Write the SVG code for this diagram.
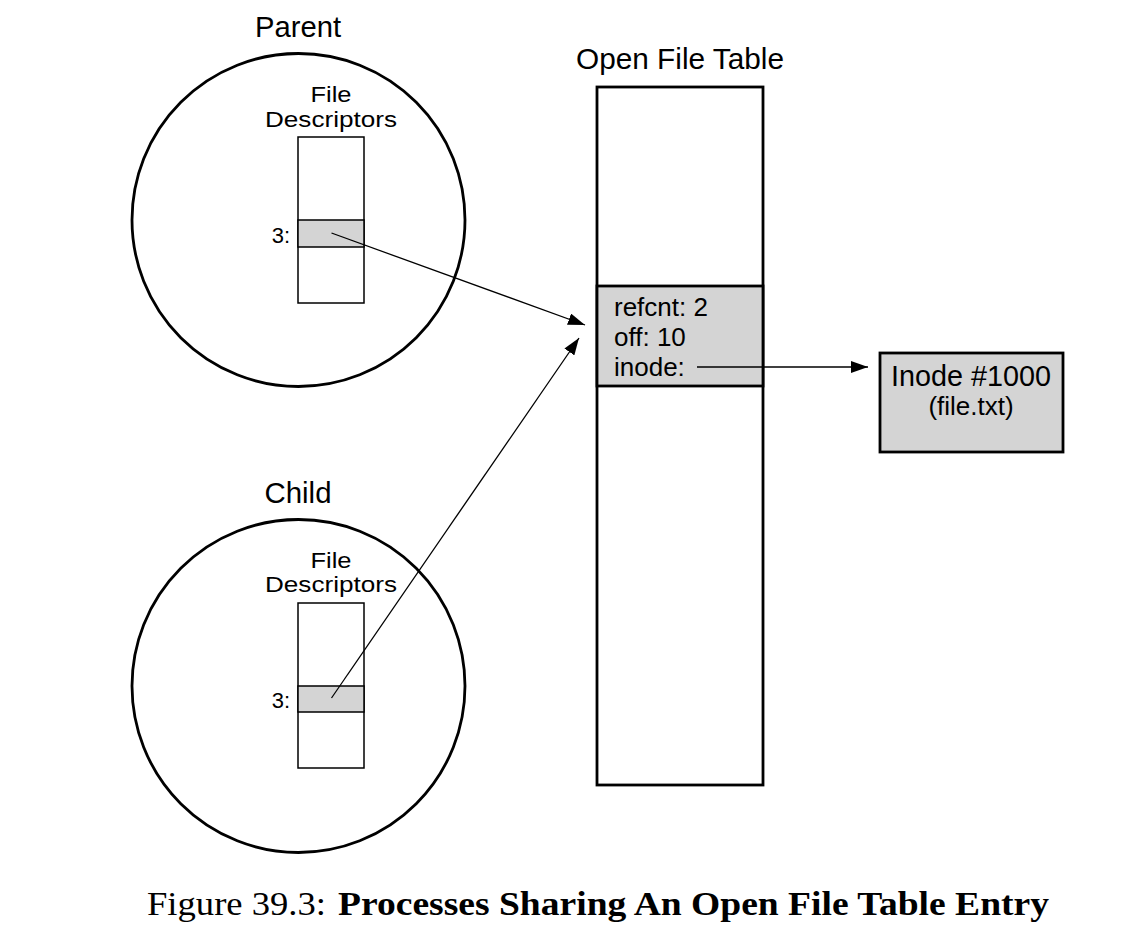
<svg xmlns="http://www.w3.org/2000/svg" width="1139" height="945" viewBox="0 0 1139 945">
<style>
.t{font-family:"Liberation Sans",Arial,sans-serif;fill:#000}
.proc{fill:none;stroke:#000;stroke-width:2.8}
.fd{fill:#fff;stroke:#000;stroke-width:1.5}
.fdg{fill:#d4d4d4;stroke:#000;stroke-width:1.5}
.big{fill:#fff;stroke:#000;stroke-width:2.8}
.bigg{fill:#d4d4d4;stroke:#000;stroke-width:2.8}
.conn{fill:none;stroke:#000;stroke-width:1.3}
.cap{font-family:"Liberation Serif","Times New Roman",serif;font-size:34px;fill:#000}
</style>
<defs>
<marker id="ah" markerUnits="userSpaceOnUse" markerWidth="17" markerHeight="12" refX="17" refY="6" orient="auto">
<path d="M0,0 L17,6 L0,12 z" fill="#000"/>
</marker>
</defs>
<rect width="1139" height="945" fill="#fff"/>

<g id="parent">
<text class="t" x="298" y="37" font-size="29" text-anchor="middle" textLength="86" lengthAdjust="spacingAndGlyphs">Parent</text>
<circle class="proc" cx="298.5" cy="220" r="166.5"/>
<text class="t" x="331" y="102" font-size="22" text-anchor="middle" textLength="41" lengthAdjust="spacingAndGlyphs">File</text>
<text class="t" x="331" y="127" font-size="22" text-anchor="middle" textLength="132" lengthAdjust="spacingAndGlyphs">Descriptors</text>
<rect class="fd" x="298" y="137" width="66" height="166"/>
<rect class="fdg" x="298" y="220" width="66" height="27"/>
<text class="t" x="290" y="243" font-size="22" text-anchor="end">3:</text>
</g>

<g id="child">
<text class="t" x="298" y="503" font-size="29" text-anchor="middle" textLength="67" lengthAdjust="spacingAndGlyphs">Child</text>
<circle class="proc" cx="298.5" cy="686" r="166.5"/>
<text class="t" x="331" y="568" font-size="22" text-anchor="middle" textLength="41" lengthAdjust="spacingAndGlyphs">File</text>
<text class="t" x="331" y="592" font-size="22" text-anchor="middle" textLength="132" lengthAdjust="spacingAndGlyphs">Descriptors</text>
<rect class="fd" x="298" y="603" width="66" height="165"/>
<rect class="fdg" x="298" y="686" width="66" height="26"/>
<text class="t" x="290" y="708" font-size="22" text-anchor="end">3:</text>
</g>

<g id="open-file-table">
<text class="t" x="680" y="69" font-size="29" text-anchor="middle" textLength="208" lengthAdjust="spacingAndGlyphs">Open File Table</text>
<rect class="big" x="597" y="87" width="166" height="698"/>
<rect class="bigg" x="597" y="286" width="166" height="100"/>
<text class="t" x="614" y="316" font-size="26">refcnt: 2</text>
<text class="t" x="614" y="346" font-size="26">off: 10</text>
<text class="t" x="614" y="376" font-size="26">inode:</text>
</g>

<g id="inode">
<rect class="bigg" x="880" y="353" width="183" height="99"/>
<text class="t" x="971" y="386" font-size="29" text-anchor="middle" textLength="160" lengthAdjust="spacingAndGlyphs">Inode #1000</text>
<text class="t" x="971" y="415" font-size="26" text-anchor="middle">(file.txt)</text>
</g>

<g id="connectors">
<line class="conn" x1="331.5" y1="233" x2="585" y2="325" marker-end="url(#ah)"/>
<line class="conn" x1="331.5" y1="698" x2="579" y2="338" marker-end="url(#ah)"/>
<line class="conn" x1="697" y1="367" x2="868" y2="367" marker-end="url(#ah)"/>
</g>

<g id="caption">
<text class="cap" x="147" y="915" textLength="179" lengthAdjust="spacingAndGlyphs">Figure 39.3:</text>
<text class="cap" x="338" y="915" font-weight="bold" textLength="711" lengthAdjust="spacingAndGlyphs">Processes Sharing An Open File Table Entry</text>
</g>
</svg>
